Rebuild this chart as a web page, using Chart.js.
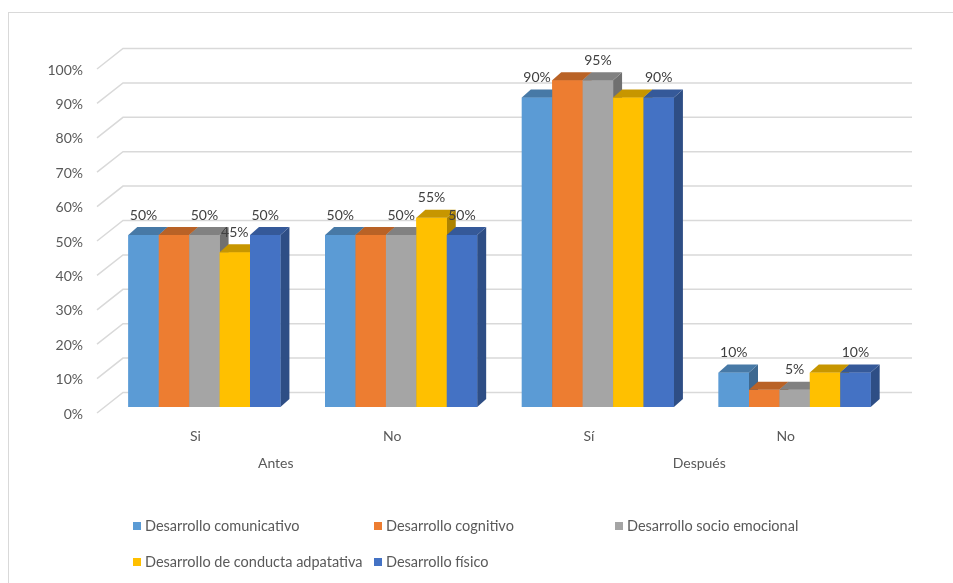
<!DOCTYPE html>
<html>
<head>
<meta charset="utf-8">
<script src="https://cdn.jsdelivr.net/npm/chart.js@4.4.0/dist/chart.umd.min.js"></script>
<style>
  html, body { margin: 0; padding: 0; background: #fff; }
  #wrap { width: 953px; height: 583px; position: relative; }
</style>
</head>
<body>
<div id="wrap"><canvas id="myChart"></canvas></div>
<script>
var categories = ["Si", "No", "Sí", "No"];
var groupLabels = ["Antes", "Después"];
var seriesNames = [
  "Desarrollo comunicativo",
  "Desarrollo cognitivo",
  "Desarrollo socio emocional",
  "Desarrollo de conducta adpatativa",
  "Desarrollo físico"
];
var comunicativo = [50, 50, 90, 10];
var cognitivo = [50, 50, 95, 5];
var socioEmocional = [50, 50, 95, 5];
var conductaAdaptativa = [45, 55, 90, 10];
var fisico = [50, 50, 90, 10];
// which value labels Excel actually showed
var labelShown = [
  [1, 1, 1, 1],
  [0, 0, 0, 0],
  [1, 1, 1, 1],
  [1, 1, 0, 0],
  [1, 1, 1, 1]
];

var colors = ["#5B9BD5", "#ED7D31", "#A5A5A5", "#FFC000", "#4472C4"];
var FONT = "Lato";
var DX = 9, DY = -8;

function shade(hex, f) {
  var n = parseInt(hex.slice(1), 16);
  var r = Math.round(((n >> 16) & 255) * f);
  var g = Math.round(((n >> 8) & 255) * f);
  var b = Math.round((n & 255) * f);
  return "rgb(" + r + "," + g + "," + b + ")";
}

var values = [comunicativo, cognitivo, socioEmocional, conductaAdaptativa, fisico];
var datasets = values.map(function (v, i) {
  return {
    label: seriesNames[i],
    data: v,
    backgroundColor: colors[i],
    borderWidth: 0,
    categoryPercentage: 0.773,
    barPercentage: 1
  };
});

var perspectivePlugin = {
  id: "perspective",
  beforeDatasetsDraw: function (chart) {
    var ctx = chart.ctx, y = chart.scales.y, a = chart.chartArea;
    ctx.save();
    ctx.strokeStyle = "#D9D9D9";
    ctx.lineWidth = 1.5;
    y.ticks.forEach(function (t) {
      var py = y.getPixelForValue(t.value);
      ctx.beginPath();
      ctx.moveTo(a.left - 9, py + 6);
      ctx.lineTo(a.left + 17, py - 14.5);
      ctx.lineTo(a.right + 19, py - 14.5);
      ctx.stroke();
    });
    ctx.restore();
  },
  afterDatasetsDraw: function (chart) {
    // redraw the bars left to right so every block hides the one behind it
    var ctx = chart.ctx;
    ctx.save();
    chart.data.datasets.forEach(function (ds, i) {
      chart.getDatasetMeta(i).data.forEach(function (el) {
        var L = el.x - el.width / 2, R = el.x + el.width / 2;
        ctx.fillStyle = shade(colors[i], 0.68);
        ctx.beginPath();
        ctx.moveTo(R, el.y);
        ctx.lineTo(R + DX, el.y + DY);
        ctx.lineTo(R + DX, el.base + DY);
        ctx.lineTo(R, el.base);
        ctx.closePath();
        ctx.fill();
        ctx.fillStyle = colors[i];
        ctx.fillRect(L, el.y, el.width, el.base - el.y);
        ctx.fillStyle = shade(colors[i], 0.78);
        ctx.beginPath();
        ctx.moveTo(L, el.y);
        ctx.lineTo(R, el.y);
        ctx.lineTo(R + DX, el.y + DY);
        ctx.lineTo(L + DX, el.y + DY);
        ctx.closePath();
        ctx.fill();
      });
    });
    ctx.restore();
  },
  afterDraw: function (chart) {
    var ctx = chart.ctx, x = chart.scales.x;
    ctx.save();
    // outer frame
    ctx.strokeStyle = "#D9D9D9";
    ctx.lineWidth = 1;
    ctx.strokeRect(8.5, 12.5, 1000, 1000);

    // value labels
    ctx.fillStyle = "#404040";
    ctx.font = "14px '" + FONT + "'";
    ctx.textAlign = "center";
    ctx.textBaseline = "middle";
    chart.data.datasets.forEach(function (ds, i) {
      chart.getDatasetMeta(i).data.forEach(function (el, j) {
        if (!labelShown[i][j]) return;
        ctx.fillText(ds.data[j] + "%", el.x, el.y - 20);
      });
    });

    // group labels under the category labels
    ctx.fillStyle = "#595959";
    var offs = [-18, 12];
    groupLabels.forEach(function (g, k) {
      var mid = (x.getPixelForValue(2 * k) + x.getPixelForValue(2 * k + 1)) / 2 - 9 + offs[k];
      ctx.fillText(g, mid, 463);
    });

    // legend, laid out in Excel's columns
    var cols = [133, 374, 615], rows = [526, 562];
    ctx.textAlign = "left";
    ctx.font = "14.5px '" + FONT + "'";
    chart.data.datasets.forEach(function (ds, i) {
      var cx = cols[i % 3], cy = rows[Math.floor(i / 3)];
      ctx.fillStyle = ds.backgroundColor;
      ctx.fillRect(cx, cy - 4, 8, 8);
      ctx.fillStyle = "#595959";
      ctx.fillText(ds.label, cx + 12, cy);
    });
    ctx.restore();
  }
};

window.onload = function () {
  var ctx = document.getElementById("myChart").getContext("2d");
  new Chart(ctx, {
    type: "bar",
    data: { labels: categories, datasets: datasets },
    plugins: [perspectivePlugin],
    options: {
      responsive: true,
      maintainAspectRatio: false,
      animation: false,
      layout: { padding: { left: 0, right: 60, top: 63, bottom: 0 } },
      plugins: { legend: { display: false }, tooltip: { enabled: false } },
      scales: {
        x: {
          grid: { display: false },
          border: { display: false },
          afterFit: function (s) { s.height = 176; },
          ticks: {
            color: "#595959",
            font: { family: FONT, size: 14 },
            padding: 13,
            labelOffset: -9
          }
        },
        y: {
          min: 0,
          max: 100,
          grid: { display: false },
          border: { display: false },
          afterFit: function (s) { s.width = 106; },
          ticks: {
            stepSize: 10,
            color: "#595959",
            font: { family: FONT, size: 14 },
            padding: 15,
            labelOffset: 7,
            callback: function (v) { return v + "%"; }
          }
        }
      }
    }
  });
};
</script>
</body>
</html>
